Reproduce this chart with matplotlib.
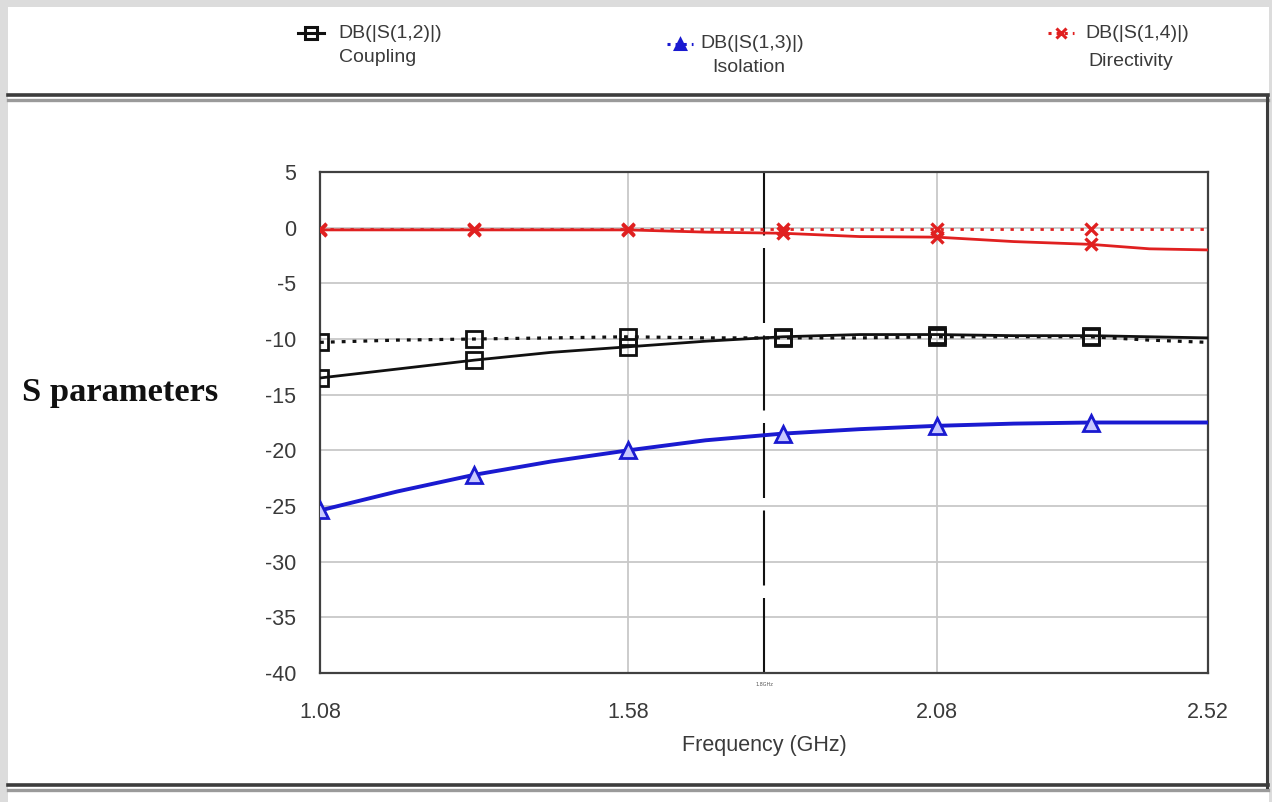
import matplotlib
matplotlib.use("Agg")
import matplotlib.pyplot as plt
from matplotlib.lines import Line2D
from matplotlib.patches import Rectangle

plt.rcParams["axes.unicode_minus"] = False

# ---------------- data ----------------
freq = [1.08, 1.205, 1.33, 1.455, 1.58, 1.705, 1.83, 1.955, 2.08, 2.205, 2.33, 2.425, 2.52]
marker_idx = [0, 2, 4, 6, 8, 10]

coupling_solid = [-13.5, -12.7, -11.9, -11.2, -10.7, -10.2, -9.8, -9.6, -9.6, -9.7, -9.7, -9.8, -9.9]
coupling_dotted = [-10.3, -10.1, -10.0, -9.9, -9.8, -9.9, -9.9, -9.9, -9.8, -9.8, -9.8, -10.1, -10.3]
isolation = [-25.4, -23.7, -22.2, -21.0, -20.0, -19.1, -18.5, -18.1, -17.8, -17.6, -17.5, -17.5, -17.5]
directivity_solid = [-0.2, -0.2, -0.2, -0.2, -0.2, -0.4, -0.5, -0.8, -0.85, -1.25, -1.5, -1.9, -2.0]
directivity_dotted = [-0.1] * 13

marker_freq = 1.80
marker_label = "1.8GHz"

xticks = [1.08, 1.58, 2.08, 2.52]
xtick_labels = ["1.08", "1.58", "2.08", "2.52"]
yticks = [5, 0, -5, -10, -15, -20, -25, -30, -35, -40]

legend_titles = ["DB(|S(1,2)|)", "DB(|S(1,3)|)", "DB(|S(1,4)|)"]
legend_names = ["Coupling", "Isolation", "Directivity"]

# ---------------- figure ----------------
W, H = 1272, 802
fig = plt.figure(figsize=(W / 100, H / 100), dpi=100)
fig.patch.set_facecolor("white")


def fx(px):
    return px / W


def fy(py):
    return 1 - py / H


TXT = "#3a3a3a"
RED = "#e02020"
BLUE = "#1a1ad0"
BLACK = "#111111"

# textured grey border strips
for (x0, y0, x1, y1) in [(0, 0, 8, H), (0, 0, W, 7), (1269, 0, W, H)]:
    fig.patches.append(Rectangle((fx(x0), fy(y1)), fx(x1 - x0), (y1 - y0) / H,
                                 transform=fig.transFigure, facecolor="#dcdcdc",
                                 edgecolor="none", zorder=0))

# double frame lines
for yy, col, lw in [(95, "#3c3c3c", 2.6), (100, "#9a9a9a", 2.4),
                    (785, "#3c3c3c", 2.6), (790, "#9a9a9a", 2.4)]:
    fig.add_artist(Line2D([fx(8), fx(1268)], [fy(yy), fy(yy)], color=col, lw=lw,
                          transform=fig.transFigure))
fig.add_artist(Line2D([fx(1267), fx(1267)], [fy(95), fy(787)], color="#3c3c3c", lw=2.2,
                      transform=fig.transFigure))

# ---------------- axes ----------------
L, R, T, B = 320, 1208, 172, 673
ax = fig.add_axes([fx(L), fy(B), fx(R - L), (B - T) / H])
ax.set_xlim(xticks[0], xticks[-1])
ax.set_ylim(-40, 5)

ax.set_xticks(xticks)
ax.set_xticklabels(xtick_labels)
ax.set_yticks(yticks)
ax.tick_params(axis="both", length=0, labelsize=15.5, labelcolor=TXT)
ax.tick_params(axis="x", pad=21)
ax.tick_params(axis="y", pad=17)
for lab in ax.get_xticklabels() + ax.get_yticklabels():
    lab.set_family("Liberation Sans")

ax.grid(True, color="#c8c8c8", lw=1.3)
ax.set_axisbelow(True)
for s in ax.spines.values():
    s.set_color("#404040")
    s.set_linewidth(1.6)

# marker line
ax.axvline(marker_freq, color=BLACK, lw=1.5, dashes=(36, 6), zorder=2)
ax.text(marker_freq, -41.0, marker_label, fontsize=3.5, color="#555555",
        ha="center", va="center", clip_on=False)

# data lines
ax.plot(freq, directivity_dotted, color=RED, lw=2.0, ls=(0, (1.2, 2.4)), zorder=3,
        marker="x", markevery=marker_idx, markersize=8, mew=2.4)
ax.plot(freq, directivity_solid, color=RED, lw=2.0, zorder=3,
        marker="x", markevery=marker_idx, markersize=8, mew=2.4)

ax.plot(freq, coupling_dotted, color=BLACK, lw=2.3, ls=(0, (1.2, 2.2)), zorder=4,
        marker="s", markevery=marker_idx, markersize=11, mew=2.0,
        markerfacecolor="none", markeredgecolor=BLACK)
ax.plot(freq, coupling_solid, color=BLACK, lw=2.0, zorder=4,
        marker="s", markevery=marker_idx, markersize=11, mew=2.0,
        markerfacecolor="none", markeredgecolor=BLACK)

ax.plot(freq, isolation, color=BLUE, lw=2.8, zorder=4,
        marker="^", markevery=marker_idx, markersize=11, mew=2.0,
        markerfacecolor="#c8c8ff", markeredgecolor=BLUE)

ax.set_xlabel("Frequency (GHz)", fontsize=15.5, color=TXT, family="Liberation Sans")
ax.xaxis.set_label_coords(0.5, (B - 745) / (B - T))
ax.xaxis.label.set_va("center")

ax.set_ylabel("S parameters", rotation=0, fontsize=24.8, fontweight="bold",
              family="Liberation Serif", color=BLACK, ha="left", va="center")
ax.yaxis.set_label_coords((22 - L) / (R - L), (B - 393) / (B - T))

# ---------------- legend (manual) ----------------
leg_specs = [
    # marker x, marker y, title x, title y, name x, name y, color, marker, ls, face, size
    (311, 33, 338, 33, 339, 58, BLACK, "s", "-", "none", 8),
    (680, 44, 700, 44, 712, 68, BLUE, "^", ":", BLUE, 6.5),
    (1061, 33, 1085, 33, 1088, 62, RED, "x", ":", RED, 7),
]
for i, (mx, my, tx, ty, nx, ny, col, mk, ls, face, ms) in enumerate(leg_specs):
    fig.add_artist(Line2D([fx(mx - 13), fx(mx + 13)], [fy(my), fy(my)],
                          color=col, lw=2.2, ls=ls, transform=fig.transFigure))
    fig.add_artist(Line2D([fx(mx)], [fy(my)], color=col, marker=mk, markersize=ms,
                          mew=2.2, markerfacecolor=face, markeredgecolor=col, ls="none",
                          transform=fig.transFigure))
    fig.text(fx(tx), fy(ty), legend_titles[i], fontsize=14, color=TXT,
             family="Liberation Sans", ha="left", va="center")
    fig.text(fx(nx), fy(ny), legend_names[i], fontsize=14, color=TXT,
             family="Liberation Sans", ha="left", va="center")

fig.savefig("out.png", dpi=100, facecolor=fig.get_facecolor())
